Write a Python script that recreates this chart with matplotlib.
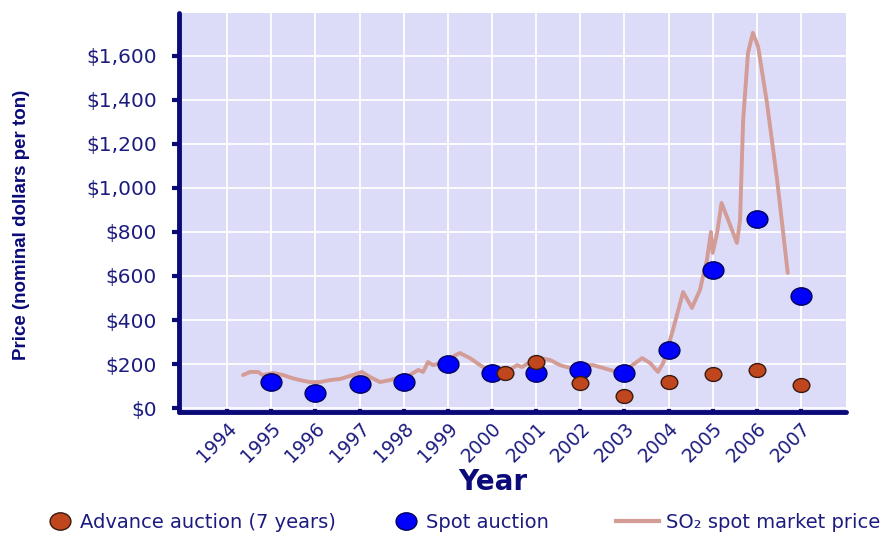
import matplotlib
matplotlib.use("Agg")
import numpy as np
from matplotlib import pyplot as plt
from matplotlib.markers import MarkerStyle
from matplotlib.transforms import Affine2D
from matplotlib.lines import Line2D

# auction results ($ per ton)
spot_years = [1995, 1996, 1997, 1998, 1999, 2000, 2001, 2002, 2003, 2004, 2005, 2006, 2007]
spot_price = [118, 68, 109, 118, 200, 159, 159, 173, 159, 264, 627, 859, 509]

adv_years = [2000.3, 2001, 2002, 2003, 2004, 2005, 2006, 2007]
adv_price = [159, 209, 114, 55, 118, 155, 173, 105]

# SO2 spot market price (monthly-ish readings)
mkt_t = [1994.36, 1994.52, 1994.70, 1994.80, 1995.04, 1995.27, 1995.47, 1995.65, 1995.88,
         1996.10, 1996.33, 1996.56, 1996.85, 1997.05, 1997.24, 1997.46, 1997.69, 1997.92,
         1998.14, 1998.33, 1998.44, 1998.55, 1998.66, 1998.89, 1999.10, 1999.27, 1999.50,
         1999.73, 1999.90, 2000.18, 2000.40, 2000.57, 2000.68, 2000.86, 2001.09, 2001.32,
         2001.54, 2001.77, 2002.06, 2002.29, 2002.52, 2002.83, 2003.12, 2003.40, 2003.58,
         2003.76, 2003.88, 2004.10, 2004.33, 2004.53, 2004.71, 2004.87, 2004.96, 2005.00,
         2005.10, 2005.20, 2005.35, 2005.55, 2005.62, 2005.69, 2005.80, 2005.91, 2006.03,
         2006.23, 2006.46, 2006.70]
mkt_v = [150, 164, 164, 150, 159, 150, 136, 127, 118,
         118, 127, 132, 150, 164, 141, 118, 127, 141,
         150, 173, 164, 209, 195, 205, 232, 250, 227,
         195, 173, 164, 173, 195, 186, 209, 227, 218,
         195, 182, 195, 195, 182, 164, 186, 227, 205,
         164, 205, 355, 527, 455, 536, 673, 800, 705,
         795, 932, 855, 750, 855, 1309, 1614, 1705, 1641,
         1386, 1036, 614]

year_ticks = list(range(1994, 2008))
price_ticks = list(range(0, 1601, 200))

navy = "#0a0a78"
txt = "#1c1c80"
bg = "#dcdcf8"
line_col = "#d39c96"
blue = "#0000ff"
red = "#c0461e"

fig = plt.figure(figsize=(8.88, 5.34), dpi=100)
ax = fig.add_axes([179/888, 1-412/534, (846-179)/888, (412-13)/534])
ax.set_facecolor(bg)

oval = Affine2D().scale(1.2, 1.0)

ax.plot(mkt_t, mkt_v, color=line_col, lw=2.8, solid_capstyle="round",
        solid_joinstyle="round", zorder=3)
ax.plot(spot_years, spot_price, ls="none", marker=MarkerStyle("o", transform=oval),
        ms=12.5, mfc=blue, mec="#00005a", mew=1, zorder=4)
ax.plot(adv_years, adv_price, ls="none", marker=MarkerStyle("o", transform=oval),
        ms=10, mfc=red, mec="#3a1a10", mew=1, zorder=5)

ax.set_xlim(1992.91, 2008.02)
ax.set_ylim(-18, 1795)
ax.set_xticks(year_ticks)
ax.set_yticks(price_ticks)
ax.set_yticklabels(["${:,}".format(v) for v in price_ticks])
ax.set_xticklabels([str(y) for y in year_ticks], rotation=45, ha="right", va="top",
                   rotation_mode="anchor")
ax.grid(True, color="white", lw=1.3, zorder=0)
ax.set_axisbelow(True)

for s in ["top", "right"]:
    ax.spines[s].set_visible(False)
for s in ["left", "bottom"]:
    ax.spines[s].set_color(navy)
    ax.spines[s].set_linewidth(3.5)
    ax.spines[s].set_capstyle("round")

ax.tick_params(axis="y", direction="out", length=5, width=3, color=navy, pad=11,
               labelsize=14.5, labelcolor=txt)
ax.tick_params(axis="x", direction="in", length=3, width=3, color=navy, pad=5,
               labelsize=13.5, labelcolor=txt)

fig.text(493/888, 1-482/534, "Year", ha="center", va="center", fontsize=20,
         fontweight="bold", color=navy)
fig.text(22/888, 1-225/534, "Price (nominal dollars per ton)", rotation=90,
         ha="center", va="center", fontsize=13.5, fontweight="bold", color=navy,
         family="Liberation Sans")

# legend entries along the bottom
h_adv = Line2D([], [], ls="none", marker=MarkerStyle("o", transform=oval), ms=12.5,
               mfc=red, mec="#3a1a10")
h_spot = Line2D([], [], ls="none", marker=MarkerStyle("o", transform=oval), ms=12.5,
                mfc=blue, mec="#00005a")
h_mkt = Line2D([], [], color=line_col, lw=3)
entries = [(h_adv, "Advance auction (7 years)", 46, 1.4),
           (h_spot, "Spot auction", 392, 1.4),
           (h_mkt, "SO₂ spot market price", 616, 2.2)]
for h, lab, x0, hl in entries:
    fig.legend(handles=[h], labels=[lab], loc="center left",
               bbox_to_anchor=(x0/888, 1-522/534), frameon=False, fontsize=14,
               handlelength=hl, handletextpad=0.35,
               borderpad=0, borderaxespad=0, labelcolor=txt)

fig.savefig("out.png", dpi=100)
